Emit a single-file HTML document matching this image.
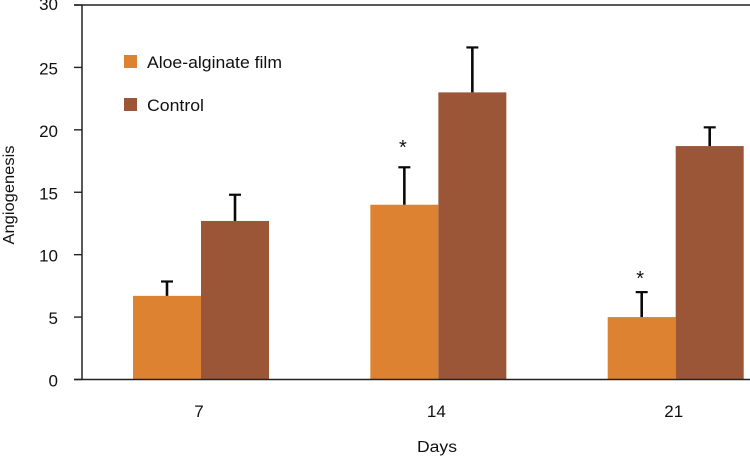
<!DOCTYPE html>
<html>
<head>
<meta charset="utf-8">
<title>Angiogenesis chart</title>
<style>
html,body{margin:0;padding:0;background:#fff;width:750px;height:456px;overflow:hidden}
svg{display:block;font-family:"Liberation Sans",sans-serif;fill:#111}
</style>
</head>
<body>
<svg id="chart" width="750" height="456" viewBox="0 0 750 456" xmlns="http://www.w3.org/2000/svg">
  <rect x="124" y="55" width="13" height="13" fill="#DC8231"/>
  <text x="147" y="68" font-size="17" textLength="135" lengthAdjust="spacingAndGlyphs">Aloe-alginate film</text>
  <rect x="124" y="98" width="13" height="13" fill="#9A5636"/>
  <text x="147" y="111" font-size="17" textLength="57" lengthAdjust="spacingAndGlyphs">Control</text>
  <text x="437" y="452" font-size="15.5" text-anchor="middle" textLength="40" lengthAdjust="spacingAndGlyphs">Days</text>
  <text transform="translate(14,195) rotate(-90)" font-size="15.5" text-anchor="middle" textLength="99" lengthAdjust="spacingAndGlyphs">Angiogenesis</text>
</svg>
<script>
const categories = ['7', '14', '21'];
const aloeValues = [6.7, 14, 5];
const controlValues = [12.7, 23, 18.7];
const aloeErrorTops = [7.85, 17, 7];
const controlErrorTops = [14.8, 26.6, 20.2];
const aloeStarLevels = [null, 18.7, 8.2];
const yTicks = [0, 5, 10, 15, 20, 25, 30];

const svg = document.getElementById('chart');
const NS = 'http://www.w3.org/2000/svg';
const yScale = v => 379.5 - v * (374.5 / 30);
const catCenter = i => 201 + i * 237.35;
const barWidth = 68;

function make(tag, attrs, parent) {
  const el = document.createElementNS(NS, tag);
  for (const k in attrs) el.setAttribute(k, attrs[k]);
  (parent || svg).appendChild(el);
  return el;
}

function drawBar(i, value, errTop, color, left, label) {
  const x = left ? catCenter(i) - barWidth : catCenter(i);
  const cx = x + barWidth / 2;
  const bar = make('rect', { x: x, y: yScale(value), width: barWidth, height: yScale(0) - yScale(value), fill: color });
  
  
  const stem = make('line', { x1: cx, x2: cx, y1: yScale(value), y2: yScale(errTop), stroke: '#0a0a0a', 'stroke-width': 2.6 });
  
  
  const cap = make('line', { x1: cx - 6, x2: cx + 6, y1: yScale(errTop), y2: yScale(errTop), stroke: '#0a0a0a', 'stroke-width': 2.2 });
  
  
}

categories.forEach((c, i) => {
  drawBar(i, aloeValues[i], aloeErrorTops[i], '#DC8231', true, 'aloe');
  drawBar(i, controlValues[i], controlErrorTops[i], '#9A5636', false, 'control');
  const lab = make('text', { x: catCenter(i) - 2, y: 417, 'font-size': 17, 'text-anchor': 'middle' });
  
  
  lab.textContent = c;
  if (aloeStarLevels[i] !== null) {
    const star = make('text', { x: catCenter(i) - barWidth / 2 - 1.5, y: yScale(aloeStarLevels[i]) + 8, 'font-size': 20, 'text-anchor': 'middle' });
    
    
    star.textContent = '*';
  }
});

yTicks.forEach(t => {
  const tick = make('line', { x1: 74, x2: 82, y1: yScale(t), y2: yScale(t), stroke: '#222', 'stroke-width': 1.4 });
  
  
  const lab = make('text', { x: 58, y: yScale(t) + (t === 30 ? 5 : 7), 'font-size': 17, 'text-anchor': 'end' });
  
  
  lab.textContent = t;
});

const yAxis = make('line', { x1: 82, x2: 82, y1: yScale(30), y2: yScale(0), stroke: '#222', 'stroke-width': 1.5 });


const xAxis = make('line', { x1: 74, x2: 750, y1: yScale(0), y2: yScale(0), stroke: '#222', 'stroke-width': 1.5 });


const topLine = make('line', { x1: 74, x2: 750, y1: yScale(30), y2: yScale(30), stroke: '#222', 'stroke-width': 1.4 });


</script>
</body>
</html>
